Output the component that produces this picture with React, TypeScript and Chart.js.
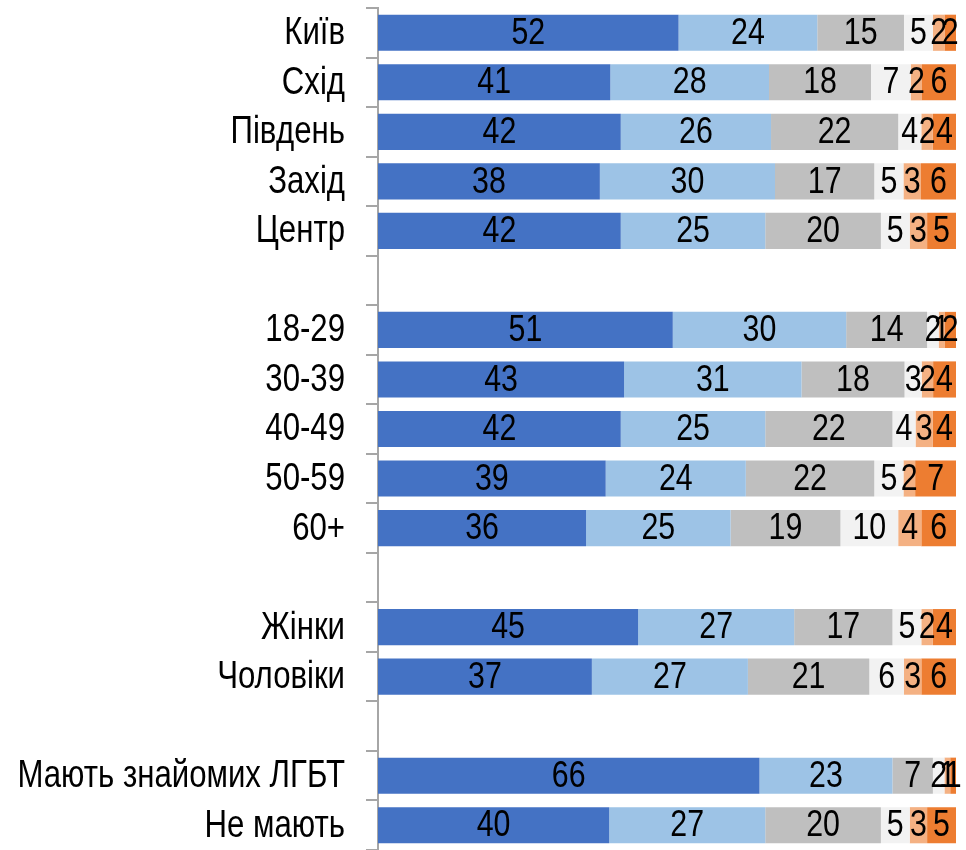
import React, { useEffect, useRef } from "react";
import { Chart, registerables } from "chart.js";

Chart.register(...registerables);

const categories = [
  "Київ", "Схід", "Південь", "Захід", "Центр", "",
  "18-29", "30-39", "40-49", "50-59", "60+", "",
  "Жінки", "Чоловіки", "",
  "Мають знайомих ЛГБТ", "Не мають",
];

const s1 = [52, 41, 42, 38, 42, null, 51, 43, 42, 39, 36, null, 45, 37, null, 66, 40];
const s2 = [24, 28, 26, 30, 25, null, 30, 31, 25, 24, 25, null, 27, 27, null, 23, 27];
const s3 = [15, 18, 22, 17, 20, null, 14, 18, 22, 22, 19, null, 17, 21, null, 7, 20];
const s4 = [5, 7, 4, 5, 5, null, 2, 3, 4, 5, 10, null, 5, 6, null, 2, 5];
const s5 = [2, 2, 2, 3, 3, null, 1, 2, 3, 2, 4, null, 2, 3, null, 1, 3];
const s6 = [2, 6, 4, 6, 5, null, 2, 4, 4, 7, 6, null, 4, 6, null, 1, 5];

const seriesValues = [s1, s2, s3, s4, s5, s6];
const colors = ["#4472C4", "#9DC3E6", "#BFBFBF", "#F2F2F2", "#F4B183", "#ED7D31"];

const FONT = "'Liberation Sans', Arial, sans-serif";
const NARROW = 0.82;

function drawNarrow(ctx: any, text: string, x: number, y: number, align: "center" | "right") {
  ctx.save();
  ctx.translate(x, y);
  ctx.scale(NARROW, 1);
  ctx.textAlign = align;
  ctx.fillText(text, 0, 0);
  ctx.restore();
}

const labelPlugin = {
  id: "segLabels",
  afterDatasetsDraw(chart: any) {
    const ctx = chart.ctx;
    ctx.save();
    ctx.fillStyle = "#000";
    ctx.textBaseline = "middle";
    // segment value labels
    ctx.font = `37px ${FONT}`;
    chart.data.datasets.forEach((ds: any, di: number) => {
      const meta = chart.getDatasetMeta(di);
      meta.data.forEach((el: any, i: number) => {
        const raw = ds.rawValues[i];
        if (raw == null) return;
        const x = (el.x + el.base) / 2;
        drawNarrow(ctx, String(raw), x, el.y + 1, "center");
      });
    });
    // category labels (condensed, like Arial Narrow)
    const yScale = chart.scales.y;
    ctx.font = `38px ${FONT}`;
    categories.forEach((c, i) => {
      if (!c) return;
      drawNarrow(ctx, c, yScale.right - 33, yScale.getPixelForValue(i) + 1, "right");
    });
    ctx.restore();
  },
};

export default function App() {
  const ref = useRef<HTMLCanvasElement>(null);
  useEffect(() => {
    const totals = categories.map((_, i) =>
      seriesValues.reduce((a, s) => a + (s[i] ?? 0), 0)
    );
    const chart = new Chart(ref.current!, {
      type: "bar",
      data: {
        labels: categories,
        datasets: seriesValues.map((s, k) => ({
          label: "s" + k,
          data: s.map((v, i) => (v == null ? null : (v / totals[i]) * 100)),
          rawValues: s,
          backgroundColor: colors[k],
          borderWidth: 0,
          categoryPercentage: 1,
          barPercentage: 0.73,
        })) as any,
      },
      options: {
        indexAxis: "y",
        animation: false,
        responsive: false,
        maintainAspectRatio: false,
        layout: { padding: { top: 8, right: 10, bottom: -7, left: 0 } },
        plugins: { legend: { display: false }, tooltip: { enabled: false } },
        scales: {
          x: { stacked: true, display: false, min: 0, max: 100 },
          y: {
            stacked: true,
            afterFit: (scale: any) => {
              scale.width = 378;
              scale.paddingTop = 0;
              scale.paddingBottom = 0;
            },
            grid: {
              offset: true,
              drawOnChartArea: false,
              tickLength: 12,
              color: "#A6A6A6",
              lineWidth: 2,
            },
            border: { display: true, color: "#A6A6A6", width: 2 },
            ticks: { display: false, autoSkip: false },
          },
        },
      },
      plugins: [labelPlugin],
    });
    return () => chart.destroy();
  }, []);
  return (
    <div style={{ position: "absolute", left: 0, top: 0, width: 966, height: 850, overflow: "hidden" }}>
      <canvas ref={ref} width={966} height={850} style={{ width: 966, height: 850 }} />
    </div>
  );
}
